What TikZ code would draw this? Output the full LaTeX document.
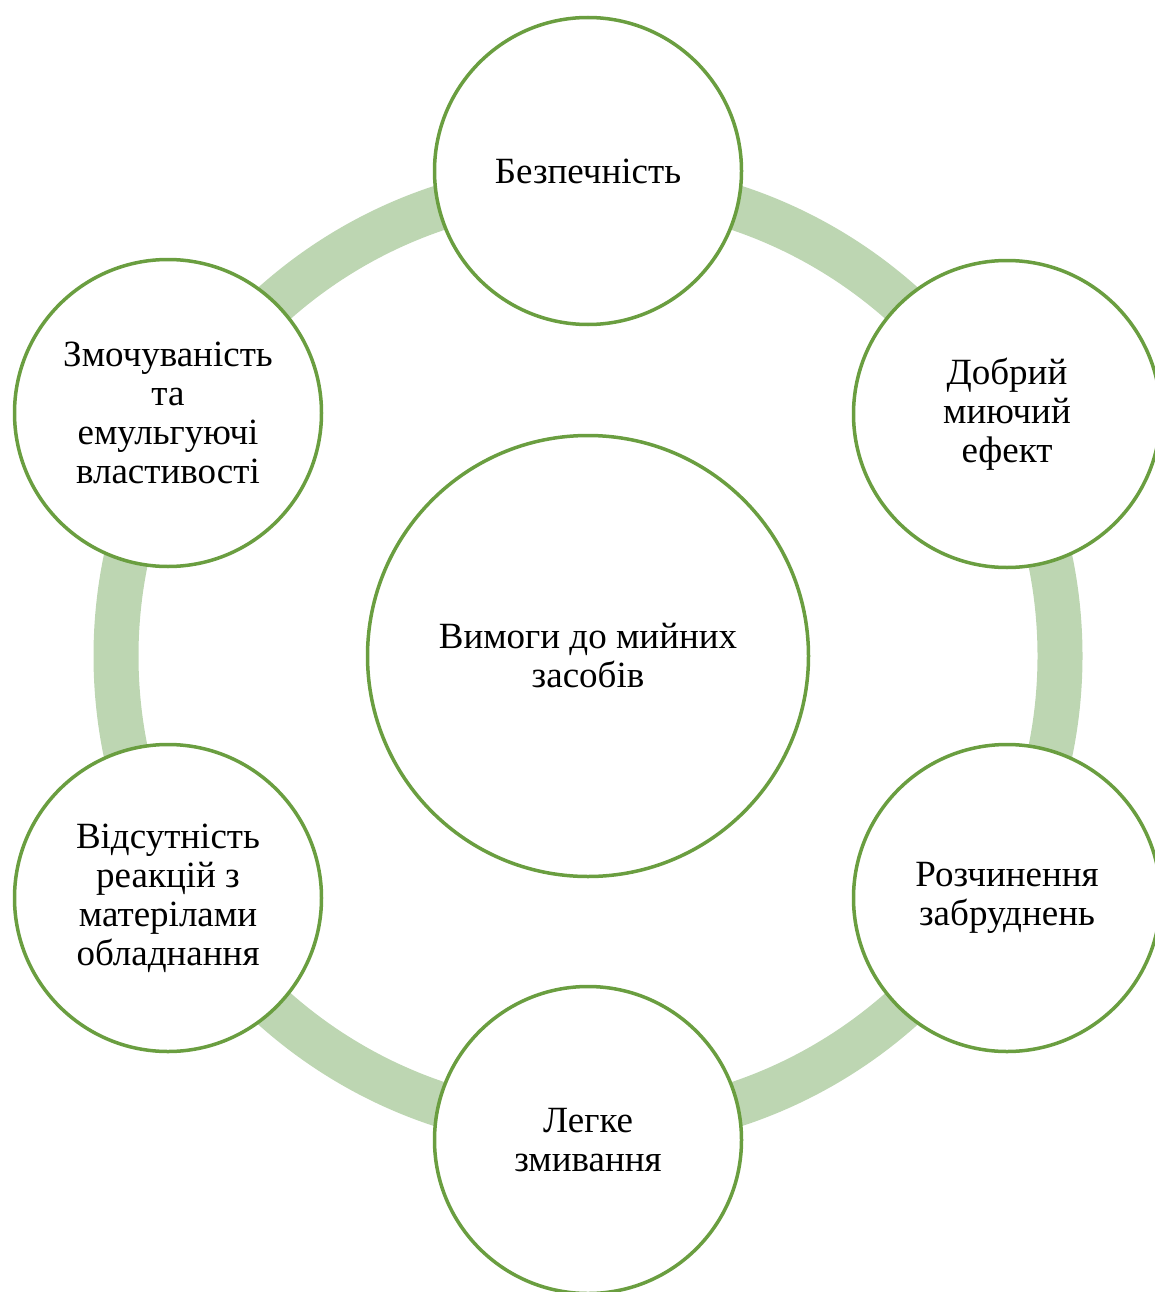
\documentclass[tikz,border=0pt]{standalone}
\usepackage{fontspec}
\setmainfont{Liberation Serif}
\definecolor{ringgreen}{HTML}{BDD6B2}
\definecolor{edgegreen}{HTML}{6A9E40}
\tikzset{
  item/.style={circle, draw=edgegreen, line width=3.5pt, fill=white, inner sep=0pt,
    minimum size=307pt, align=center, text=black, font=\fontsize{37}{39}\selectfont},
  hub/.style={item, minimum size=441pt},
  ringline/.style={draw=ringgreen, line width=45pt}
}
\begin{document}
\begin{tikzpicture}[x=1pt, y=-1pt]
\useasboundingbox (0,0) rectangle (1155,1292);
\clip (0,0) rectangle (1155,1292);
\coordinate (c) at (588,656);
\draw[ringline] (c) circle (472);
\node[hub] (center) at (c) {Вимоги до мийних\\засобів};
\node[item] (n1) at (588,171) {Безпечність};
\node[item] (n2) at (1007,414) {Добрий\\миючий\\ефект};
\node[item] (n3) at (1007,898) {Розчинення\\забруднень};
\node[item] (n4) at (588,1140) {Легке\\змивання};
\node[item] (n5) at (168,898) {Відсутність\\реакцій з\\матерілами\\обладнання};
\node[item] (n6) at (168,413) {Змочуваність\\та\\емульгуючі\\властивості};
\end{tikzpicture}
\end{document}
